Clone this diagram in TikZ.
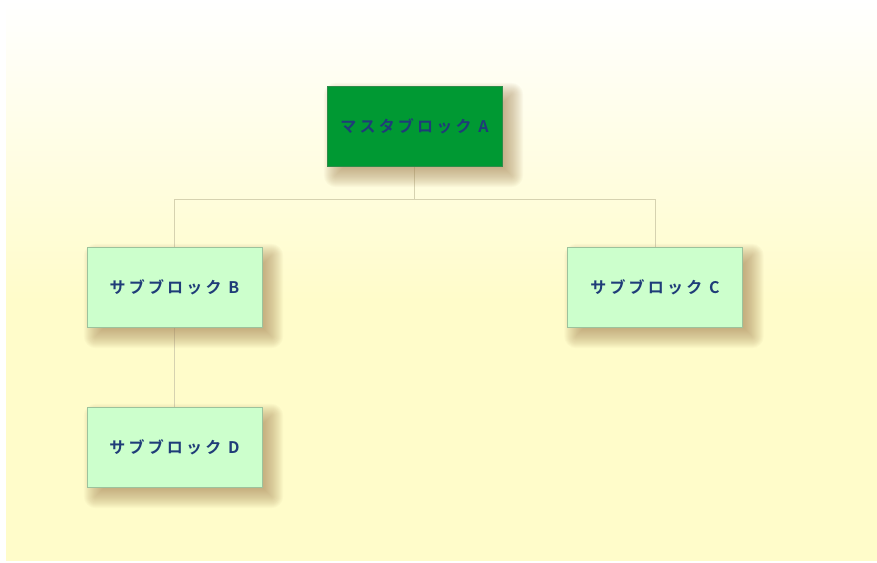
\documentclass[tikz,border=0pt]{standalone}
\usepackage{fontspec}
\newfontfamily\jpfont[LetterSpace=20]{Noto Sans CJK JP Bold}
\definecolor{panelbot}{HTML}{FFFCCA}
\definecolor{paneltop}{HTML}{FFFFFF}
\definecolor{mastergreen}{HTML}{009933}
\definecolor{masteredge}{HTML}{2E8B4A}
\definecolor{subfill}{HTML}{CCFFCC}
\definecolor{subedge}{HTML}{9CC29C}
\definecolor{labelblue}{HTML}{1F3C78}
\definecolor{linktan}{HTML}{D6D2B0}
\definecolor{shadowtan}{HTML}{A88858}
\tikzset{
  x=1pt, y=-1pt,
  blockbase/.style={rectangle, minimum width=175pt, minimum height=80pt,
    inner sep=0pt, font=\jpfont\fontsize{16}{18}\selectfont, text=labelblue},
  masterbox/.style={blockbase, fill=mastergreen, draw=masteredge, line width=0.8pt},
  subbox/.style={blockbase, fill=subfill, draw=subedge, line width=0.8pt},
  link/.style={draw=linktan, line width=1pt},
  shadowlayer/.style={fill=shadowtan, fill opacity=0.045}
}
% soft drop shadow under a named node, offset down and right
\newcommand\softshadow[1]{%
  \foreach \r in {-8,...,12}{%
    \pgfmathsetmacro\cr{max(0,\r)}%
    \fill[shadowlayer, rounded corners=\cr pt]
      ([shift={(9-\r,9-\r)}]#1.north west) rectangle ([shift={(9+\r,9+\r)}]#1.south east);
  }%
}
\begin{document}
\begin{tikzpicture}
  \useasboundingbox (0,0) rectangle (877,562);
  \fill[white] (0,0) rectangle (877,562);
  \shade[top color=paneltop, bottom color=panelbot] (6,0) rectangle (877,300);
  \fill[panelbot] (6,299.5) rectangle (877,561);

  % placeholders that fix the positions
  \path (414.5,126) coordinate (pa) (174.5,287) coordinate (pb)
        (655,287) coordinate (pc) (174.5,447) coordinate (pd);
  \node[blockbase] (a) at (pa) {};
  \node[blockbase] (b) at (pb) {};
  \node[blockbase] (c) at (pc) {};
  \node[blockbase] (d) at (pd) {};

  \coordinate (split) at (414.5,199);
  \draw[link] (a.south) -- (split);
  \draw[link] (split) -| (b.north);
  \draw[link] (split) -| (c.north);
  \draw[link] (b.south) -- (d.north);

  \softshadow{a}
  \softshadow{b}
  \softshadow{c}
  \softshadow{d}

  \node[masterbox] (ma) at (pa) {マスタブロック A};
  \node[subbox] (sb) at (pb) {サブブロック B};
  \node[subbox] (sc) at (pc) {サブブロック C};
  \node[subbox] (sd) at (pd) {サブブロック D};
\end{tikzpicture}
\end{document}
